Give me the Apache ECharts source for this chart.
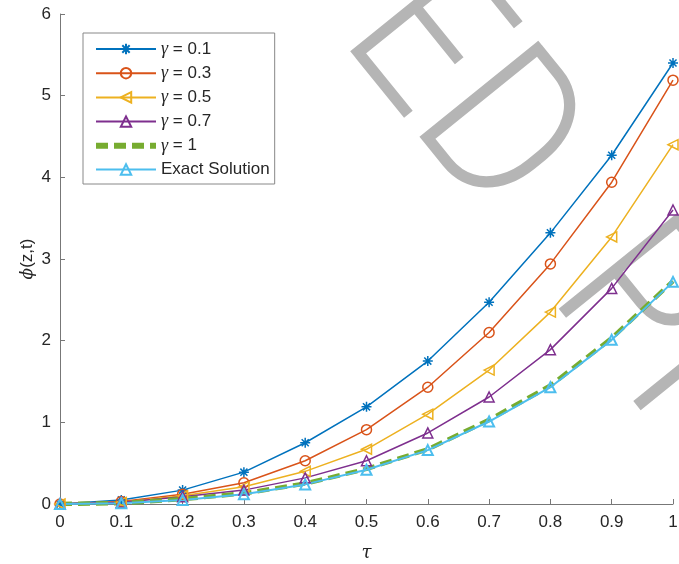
<!DOCTYPE html>
<html>
<head>
<meta charset="utf-8">
<script src="https://cdn.jsdelivr.net/npm/echarts@6/dist/echarts.min.js"></script>
<style>html,body{margin:0;padding:0;background:#fff;}#main{width:679px;height:564px;}</style>
</head>
<body>
<div id="main"></div>
<script>
var xValues = [0, 0.1, 0.2, 0.3, 0.4, 0.5, 0.6, 0.7, 0.8, 0.9, 1];
var gamma01 = [0, 0.05, 0.17, 0.39, 0.75, 1.19, 1.75, 2.47, 3.32, 4.27, 5.40];
var gamma03 = [0, 0.03, 0.12, 0.26, 0.53, 0.91, 1.43, 2.10, 2.94, 3.94, 5.19];
var gamma05 = [0, 0.02, 0.10, 0.21, 0.40, 0.67, 1.10, 1.64, 2.35, 3.27, 4.40];
var gamma07 = [0, 0.02, 0.09, 0.17, 0.32, 0.53, 0.87, 1.31, 1.89, 2.64, 3.60];
var gamma1  = [0, 0.01, 0.06, 0.13, 0.25, 0.43, 0.67, 1.03, 1.45, 2.03, 2.73];
var exactSol = [0, 0.01, 0.05, 0.12, 0.24, 0.42, 0.66, 1.01, 1.43, 2.01, 2.72];
var seriesNames = ['γ = 0.1', 'γ = 0.3', 'γ = 0.5', 'γ = 0.7', 'γ = 1', 'Exact Solution'];

function pairs(arr) { return arr.map(function (v, i) { return [xValues[i], v]; }); }

var chart = echarts.init(document.getElementById('main'), null, {renderer: 'canvas'});
var txt = '#262626';
var fs = 17;
var asterisk = 'path://M0,-10L0,10M-10,0L10,0M-7.07,-7.07L7.07,7.07M-7.07,7.07L7.07,-7.07';

function mk(name, data, color, symbol, extra) {
  var s = {
    name: name, type: 'line', data: pairs(data), symbol: symbol, symbolSize: 10,
    showAllSymbol: true, z: 3,
    lineStyle: {color: color, width: 1.5},
    itemStyle: {color: 'rgba(255,255,255,0)', borderColor: color, borderWidth: 1.5},
    emphasis: {disabled: true}, animation: false
  };
  for (var k in extra) s[k] = extra[k];
  return s;
}

var legendFmt = function (name) {
  if (name.charAt(0) === 'γ') return '{g|γ}' + name.substring(1);
  return name;
};

var legendData = seriesNames.map(function (n, i) {
  if (i === 4) {
    return {name: n, itemStyle: {color: 'rgba(0,0,0,0)', borderColor: 'rgba(0,0,0,0)', opacity: 0},
      lineStyle: {color: '#77AC30', width: 6, type: [12, 6]}};
  }
  return {name: n};
});

var wmRot = -51 * Math.PI / 180;
var wmFont = '300 215px Roboto';
var wmX = 381, wmY = 4;

var option = {
  animation: false,
  grid: {left: 60, right: 6, top: 14, bottom: 60, containLabel: false, outerBoundsMode: 'none'},
  legend: {
    orient: 'vertical', left: 83, top: 33,
    padding: [7, 5, 6, 10], itemGap: 6.2, itemWidth: 60, itemHeight: 13,
    backgroundColor: '#fff', borderColor: '#888', borderWidth: 1,
    data: legendData,
    formatter: legendFmt,
    textStyle: {color: txt, fontSize: fs, fontFamily: 'Liberation Sans',
      rich: {g: {fontFamily: 'Liberation Serif', fontStyle: 'italic', fontSize: fs + 1, color: txt}}}
  },
  xAxis: {
    type: 'value', min: 0, max: 1, interval: 0.1,
    name: 'τ', nameLocation: 'middle', nameGap: 40,
    nameTextStyle: {fontFamily: 'DejaVu Serif', fontStyle: 'italic', fontSize: 18, color: txt},
    axisLine: {show: true, lineStyle: {color: '#777', width: 1}},
    axisTick: {show: true, inside: true, length: 5, lineStyle: {color: '#777'}},
    axisLabel: {color: txt, fontSize: fs, margin: 10, fontFamily: 'Liberation Sans',
      formatter: function (v) { return String(Math.round(v * 10) / 10); }},
    splitLine: {show: false}
  },
  yAxis: {
    type: 'value', min: 0, max: 6, interval: 1,
    name: '{p|ϕ}(z,t)', nameLocation: 'middle', nameGap: 24, nameRotate: 90, nameMoveOverlap: false,
    nameTextStyle: {fontFamily: 'Liberation Sans', fontSize: fs, color: txt,
      rich: {p: {fontFamily: 'DejaVu Serif', fontStyle: 'italic', fontSize: fs, color: txt}}},
    axisLine: {show: true, lineStyle: {color: '#777', width: 1}},
    axisTick: {show: true, inside: true, length: 5, lineStyle: {color: '#777'}},
    axisLabel: {color: txt, fontSize: fs, margin: 9, fontFamily: 'Liberation Sans'},
    splitLine: {show: false}
  },
  graphic: [
    {type: 'text', x: wmX, y: wmY, rotation: wmRot, scaleX: 0.9, z: -10, silent: true,
      style: {text: 'ED  PROOF', font: wmFont, fill: '#b5b5b5',
        textAlign: 'left', textVerticalAlign: 'middle'}},
    {type: 'text', x: wmX, y: wmY, rotation: wmRot, scaleX: 0.9, z: -10, silent: true,
      style: {text: 'UNCORRECT', font: wmFont, fill: '#b5b5b5',
        textAlign: 'right', textVerticalAlign: 'middle'}}
  ],
  series: [
    mk(seriesNames[0], gamma01, '#0072BD', asterisk, {itemStyle: {color: '#0072BD', borderColor: '#0072BD', borderWidth: 1.5}}),
    mk(seriesNames[1], gamma03, '#D95319', 'circle', {}),
    mk(seriesNames[2], gamma05, '#EDB120', 'triangle', {symbolRotate: 90}),
    mk(seriesNames[3], gamma07, '#7E2F8E', 'triangle', {}),
    mk(seriesNames[4], gamma1, '#77AC30', 'none', {lineStyle: {color: '#77AC30', width: 4.5, type: [12, 6]}, itemStyle: {color: '#77AC30'}}),
    mk(seriesNames[5], exactSol, '#4DBEEE', 'triangle', {lineStyle: {color: '#4DBEEE', width: 2}, itemStyle: {color: 'rgba(255,255,255,0)', borderColor: '#4DBEEE', borderWidth: 2}})
  ]
};
chart.setOption(option);
</script>
</body>
</html>
